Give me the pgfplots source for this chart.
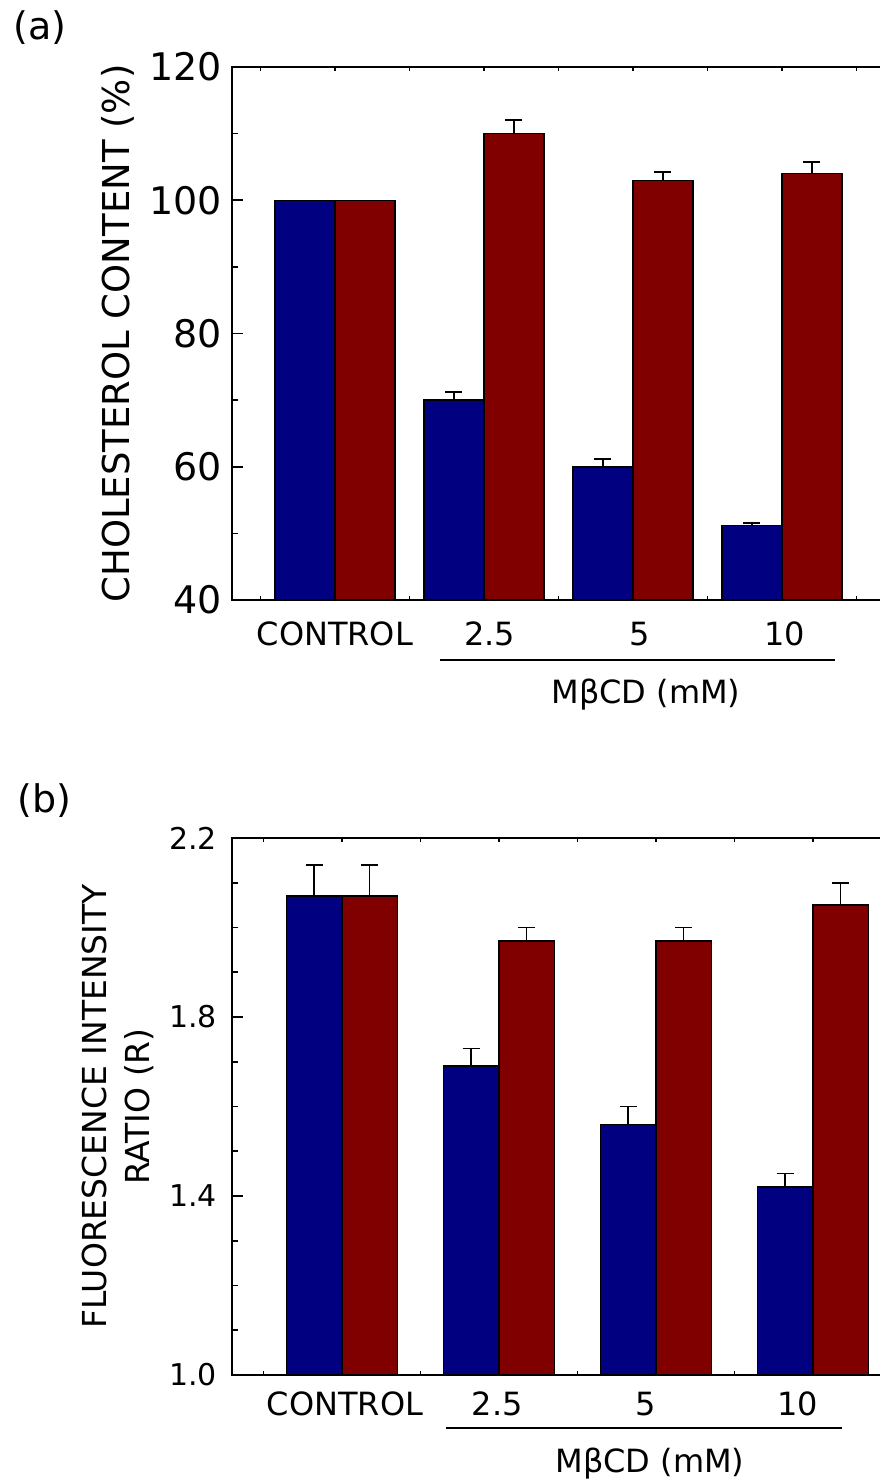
\documentclass[border=0pt]{standalone}
\usepackage{pgfplots}
\usepackage{pgfplotstable}
\pgfplotsset{compat=1.18}
\usepackage{fontspec}
\setmainfont{DejaVu Sans}
\definecolor{navyb}{HTML}{000080}
\definecolor{maroonr}{HTML}{800000}

\pgfplotstableread{
x b be r re
0 100 0 100 0
1 70 1.2 110 2.1
2 60 1.2 103 1.3
3 51.2 0.3 104 1.8
}\tabA

\pgfplotstableread{
x b be r re
0 2.07 0.07 2.07 0.07
1 1.69 0.04 1.97 0.03
2 1.56 0.04 1.97 0.03
3 1.42 0.03 2.05 0.05
}\tabB

\pgfplotsset{
  common/.style={
    scale only axis, anchor=south west,
    axis on top,
    ybar=0pt,
    axis line style={line width=2pt},
    tick align=inside, ytick pos=left, xtick pos=both,
    major tick length=4pt, minor tick length=4pt,
    tick style={line width=1.6pt, black},
    ytick style={/pgfplots/major tick length=11pt, /pgfplots/minor tick length=6pt},
    xtick={0,1,2,3},
    minor xtick={-0.5,0.5,1.5,2.5,3.5},
    /pgf/number format/assume math mode=true,
    yticklabel style={inner sep=0pt, anchor=east},
    xticklabel style={inner sep=0pt, anchor=north, font=\fontsize{32}{38}\selectfont},
    error bars/error bar style={line width=2pt, black},
    error bars/error mark options={rotate=90, mark size=8.5pt, line width=2pt, black},
  },
}

\begin{document}
\begin{tikzpicture}
\path[use as bounding box] (0pt,0pt) rectangle (879pt,-1479pt);

\begin{axis}[common,
  at={(232pt,-600pt)}, width=668pt, height=533pt,
  xmin=-0.69, xmax=3.793, ymin=40, ymax=120,
  bar width=60pt,
  xticklabels={CONTROL,{\kern12pt 2.5},{\kern14pt 5},{\kern6pt 10}},
  ytick={40,60,80,100,120}, minor y tick num=1,
  yticklabel style={xshift=-10pt, font=\fontsize{38}{44}\selectfont},
  xticklabel style={yshift=-22pt},
  ylabel={CHOLESTEROL CONTENT (\%)},
  every axis y label/.style={at={(axis description cs:-0.1707,0.5)}, rotate=90, anchor=center, font=\fontsize{37}{44}\selectfont},
]
\addplot[fill=navyb, draw=black, line width=1.5pt, bar shift=-30pt]
  table[x=x, y=b] {\tabA};
\addplot[fill=maroonr, draw=black, line width=1.5pt, bar shift=30pt]
  table[x=x, y=r] {\tabA};
\addplot[draw=none, fill=none, bar shift=-30pt, skip coords between index={0}{1},
  error bars/.cd, y dir=plus, y explicit] table[x=x, y=b, y error=be] {\tabA};
\addplot[draw=none, fill=none, bar shift=30pt, skip coords between index={0}{1},
  error bars/.cd, y dir=plus, y explicit] table[x=x, y=r, y error=re] {\tabA};
\end{axis}

\begin{axis}[common,
  at={(232pt,-1375pt)}, width=668pt, height=537pt,
  xmin=-0.70, xmax=3.555, ymin=1, ymax=2.2,
  bar width=55.5pt,
  xticklabels={{\kern6pt CONTROL},{\kern-3pt 2.5},{\kern-20pt 5},{\kern-30pt 10}},
  ytick={1,1.4,1.8,2.2}, minor y tick num=3,
  yticklabel style={xshift=-15pt, font=\fontsize{30}{36}\selectfont,
    /pgf/number format/.cd, fixed, precision=1, zerofill},
  xticklabel style={yshift=-17pt},
  ylabel={FLUORESCENCE INTENSITY\\RATIO (R)},
  every axis y label/.style={at={(axis description cs:-0.1707,0.5)}, rotate=90, anchor=center, align=center, font=\fontsize{33}{43}\selectfont},
  error bars/error bar style={line width=1.6pt, black},
  error bars/error mark options={rotate=90, mark size=8.5pt, line width=1.6pt, black},
]
\addplot[fill=navyb, draw=black, line width=1.5pt,
  error bars/.cd, y dir=plus, y explicit] table[x=x, y=b, y error=be] {\tabB};
\addplot[fill=maroonr, draw=black, line width=1.5pt,
  error bars/.cd, y dir=plus, y explicit] table[x=x, y=r, y error=re] {\tabB};
\end{axis}

\node[inner sep=0pt, anchor=base west, font=\fontsize{38}{44}\selectfont] at (13pt,-40pt) {(a)};
\node[inner sep=0pt, anchor=base west, font=\fontsize{38}{44}\selectfont] at (17pt,-812pt) {(b)};

\draw[line width=2.5pt] (440pt,-660pt) -- (835pt,-660pt);
\draw[line width=2.5pt] (446pt,-1428pt) -- (842pt,-1428pt);
\node[inner sep=0pt, anchor=base, font=\fontsize{32}{38}\selectfont] at (646pt,-703pt) {MβCD (mM)};
\node[inner sep=0pt, anchor=base, font=\fontsize{32}{38}\selectfont] at (650pt,-1472pt) {MβCD (mM)};
\end{tikzpicture}
\end{document}
